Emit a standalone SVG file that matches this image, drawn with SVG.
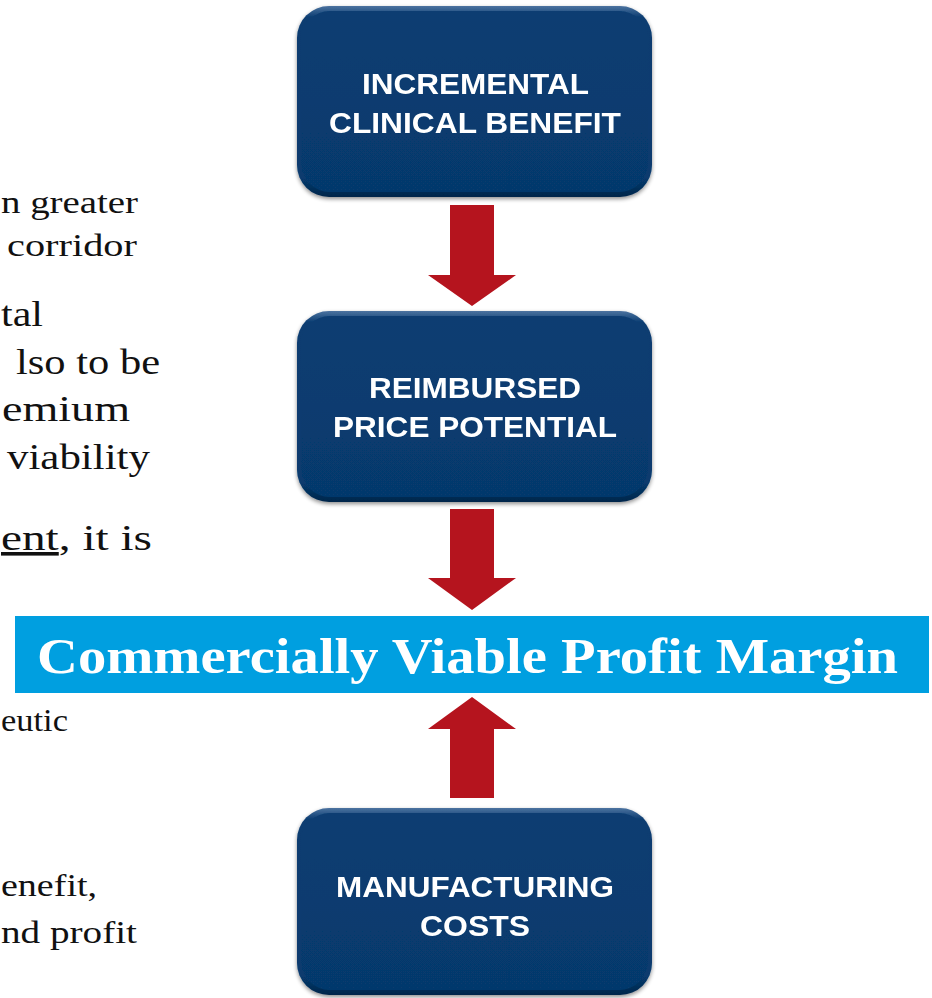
<svg xmlns="http://www.w3.org/2000/svg" width="932" height="998" viewBox="0 0 932 998">
  <style>
    .body { font-family: "Liberation Serif", "Times New Roman", serif; fill: #111; }
    .b28 { font-size: 31px; }
    .b33 { font-size: 36px; }
    .label { font-family: "Liberation Sans", Arial, sans-serif; font-weight: bold; font-size: 29px; fill: #fff; text-anchor: middle; }
    .arrow { fill: #B5141E; }
  </style>
  <defs>
    <linearGradient id="bevel" x1="0" y1="0" x2="0" y2="1">
      <stop offset="0" stop-color="#4C73A0"/>
      <stop offset="0.06" stop-color="#0A3C71"/>
      <stop offset="0.9" stop-color="#073A6E"/>
      <stop offset="1" stop-color="#04264A"/>
    </linearGradient>
    <linearGradient id="face" x1="0" y1="0" x2="0" y2="1">
      <stop offset="0" stop-color="#093D72"/>
      <stop offset="1" stop-color="#06396C"/>
    </linearGradient>
    <filter id="shadow" x="-10%" y="-10%" width="120%" height="125%">
      <feGaussianBlur in="SourceAlpha" stdDeviation="2"/>
      <feOffset dx="0" dy="2" result="b"/>
      <feComponentTransfer><feFuncA type="linear" slope="0.45"/></feComponentTransfer>
      <feMerge><feMergeNode/><feMergeNode in="SourceGraphic"/></feMerge>
    </filter>
  </defs>

  <!-- body copy at the left edge -->
  <g id="body-text" class="body">
    <text class="b28" x="1" y="213" textLength="137" lengthAdjust="spacingAndGlyphs">n greater</text>
    <text class="b28" x="7" y="256" textLength="130" lengthAdjust="spacingAndGlyphs">corridor</text>
    <text class="b33" x="1" y="326" textLength="42" lengthAdjust="spacingAndGlyphs">tal</text>
    <text class="b33" x="16" y="374" textLength="144" lengthAdjust="spacingAndGlyphs">lso to be</text>
    <text class="b33" x="2" y="421" textLength="128" lengthAdjust="spacingAndGlyphs">emium</text>
    <text class="b33" x="7" y="469" textLength="143" lengthAdjust="spacingAndGlyphs">viability</text>
    <text class="b33" x="1" y="550" textLength="151" lengthAdjust="spacingAndGlyphs"><tspan text-decoration="underline">ent</tspan>, it is</text>
    <text class="b28" x="1" y="731" textLength="67" lengthAdjust="spacingAndGlyphs">eutic</text>
    <text class="b28" x="1" y="896" textLength="96" lengthAdjust="spacingAndGlyphs">enefit,</text>
    <text class="b28" x="1" y="943" textLength="136" lengthAdjust="spacingAndGlyphs">nd profit</text>
  </g>

  <!-- banner -->
  <g id="margin-banner">
    <rect x="15" y="616" width="914" height="77" fill="#009FE0"/>
    <text x="37" y="673" font-family="'Liberation Serif', serif" font-weight="bold" font-size="50" fill="#fff" textLength="861" lengthAdjust="spacingAndGlyphs">Commercially Viable Profit Margin</text>
  </g>

  <!-- nodes -->
  <g id="node-benefit" filter="url(#shadow)">
    <rect x="297" y="6" width="355" height="191" rx="32" fill="url(#bevel)"/>
    <rect x="301" y="11" width="347" height="181" rx="29" fill="url(#face)"/>
    <text class="label" x="475.5" y="94" textLength="227" lengthAdjust="spacingAndGlyphs">INCREMENTAL</text>
    <text class="label" x="475" y="133" textLength="292" lengthAdjust="spacingAndGlyphs">CLINICAL BENEFIT</text>
  </g>
  <g id="node-price" filter="url(#shadow)">
    <rect x="297" y="311" width="355" height="191" rx="32" fill="url(#bevel)"/>
    <rect x="301" y="316" width="347" height="181" rx="29" fill="url(#face)"/>
    <text class="label" x="475" y="398" textLength="212" lengthAdjust="spacingAndGlyphs">REIMBURSED</text>
    <text class="label" x="475" y="437" textLength="284" lengthAdjust="spacingAndGlyphs">PRICE POTENTIAL</text>
  </g>
  <g id="node-costs" filter="url(#shadow)">
    <rect x="297" y="808" width="355" height="187" rx="32" fill="url(#bevel)"/>
    <rect x="301" y="813" width="347" height="177" rx="29" fill="url(#face)"/>
    <text class="label" x="475" y="897" textLength="278" lengthAdjust="spacingAndGlyphs">MANUFACTURING</text>
    <text class="label" x="475" y="936" textLength="110" lengthAdjust="spacingAndGlyphs">COSTS</text>
  </g>

  <!-- connectors -->
  <g id="connectors" class="arrow">
    <polygon points="450,205 494,205 494,275 516,275 472,306 428,275 450,275"/>
    <polygon points="450,509 494,509 494,578 516,578 472,610 428,578 450,578"/>
    <polygon points="450,798 494,798 494,729 516,729 472,697 428,729 450,729"/>
  </g>
</svg>
